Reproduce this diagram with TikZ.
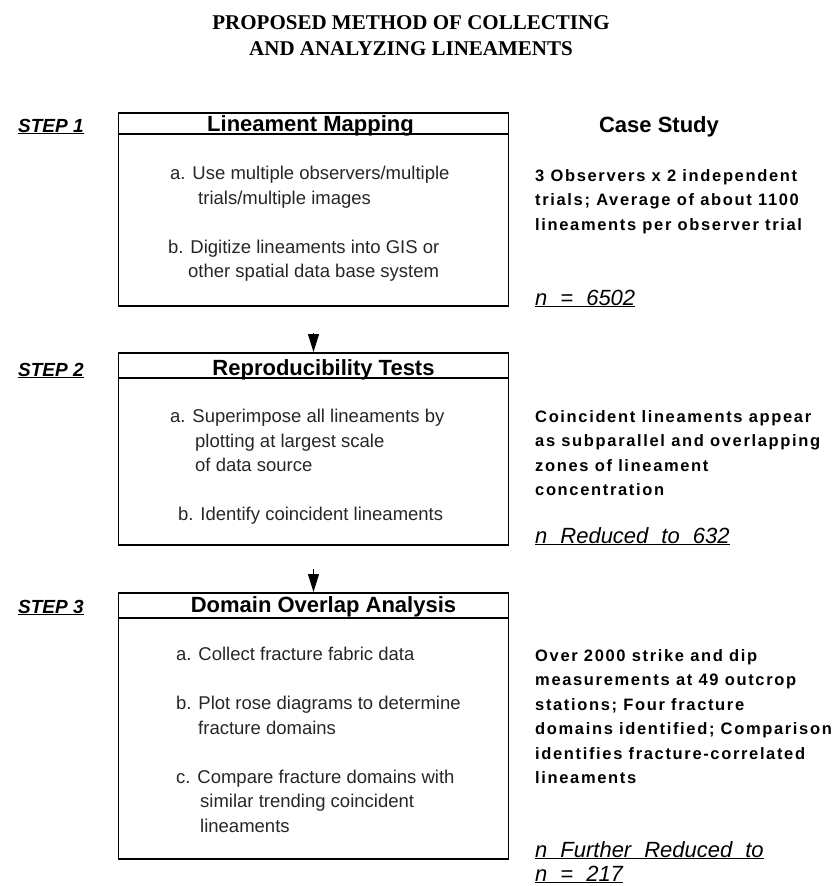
\documentclass[tikz,border=0pt]{standalone}
\usepackage{fontspec}
\setmainfont{Liberation Sans}
\newfontfamily\titlefont{Liberation Serif}
\newfontfamily\casefont[LetterSpace=10]{Liberation Sans}
\newcommand\countfont{\itshape\fontsize{22}{22}\selectfont\spaceskip 13pt\relax}
\usetikzlibrary{arrows.meta,calc}

\begin{document}
\begin{tikzpicture}[x=1pt,y=-1pt,
    stepbox/.style={draw, line width=1.5pt, minimum width=390pt, inner sep=0pt, anchor=north},
    headtext/.style={font=\bfseries\fontsize{22}{24}\selectfont, anchor=base, inner sep=0pt},
    bodytext/.style={font=\fontsize{18.5}{24.5}\selectfont, text=black!85, align=left, anchor=north west, inner sep=0pt},
    casetext/.style={font=\casefont\bfseries\fontsize{16.5}{24.5}\selectfont, align=left, anchor=north west, inner sep=0pt},
    counttext/.style={anchor=base west, inner sep=0pt},
    steplabel/.style={font=\bfseries\itshape\fontsize{19}{20}\selectfont, anchor=base west, inner sep=0pt},
    divider/.style={line width=2.5pt},
    flow/.style={-{Triangle[width=11pt,length=18pt]}, line width=1pt}
  ]

            \useasboundingbox (0,0) rectangle (836,886);

            \node (title) [font=\titlefont\bfseries\fontsize{21}{26}\selectfont, align=center] at (411,36)
                {PROPOSED METHOD OF COLLECTING\\AND ANALYZING LINEAMENTS};

            % step boxes
            \node (map) [stepbox, minimum height=193pt] at (313.5,112) {};
            \node (repro) [stepbox, minimum height=192pt] at (313.5,352) {};
            \node (domain) [stepbox, minimum height=266pt] at (313.5,592) {};

            \draw[divider] ($(map.north west)+(0,22)$) -- ($(map.north east)+(0,22)$);
            \draw[divider] ($(repro.north west)+(0,26)$) -- ($(repro.north east)+(0,26)$);
            \draw[divider] ($(domain.north west)+(0,26)$) -- ($(domain.north east)+(0,26)$);

            \node (maphead) [headtext] at ($(map.north)+(-3,19)$) {Lineament Mapping};
            \node (reprohead) [headtext] at ($(repro.north)+(10,23)$) {Reproducibility Tests};
            \node (domainhead) [headtext] at ($(domain.north)+(10,20)$) {Domain Overlap Analysis};

            \node (mapbody) [bodytext] at (170,166)
                {a. Use multiple observers/multiple\\
                 \hspace*{28pt}trials/multiple images\\[24.5pt]
                 \hspace*{-2pt}b. Digitize lineaments into GIS or\\
                 \hspace*{18pt}other spatial data base system};
            \node (reprobody) [bodytext] at (170,409)
                {a. Superimpose all lineaments by\\
                 \hspace*{25pt}plotting at largest scale\\
                 \hspace*{25pt}of data source\\[24.5pt]
                 \hspace*{8pt}b. Identify coincident lineaments};
            \node (domainbody) [bodytext] at (176,647)
                {a. Collect fracture fabric data\\[24.5pt]
                 b. Plot rose diagrams to determine\\
                 \hspace*{22pt}fracture domains\\[24.5pt]
                 c. Compare fracture domains with\\
                 \hspace*{24pt}similar trending coincident\\
                 \hspace*{24pt}lineaments};

            % arrows between steps
            \coordinate (mapout) at ($(repro.north)+(0,-19)$);
            \coordinate (reproout) at ($(domain.north)+(0,-23)$);
            \draw[flow] (mapout) -- (repro.north);
            \draw[flow] (reproout) -- (domain.north);

            % step labels
            \node (step1) [steplabel] at (18,132) {\underline{STEP 1}};
            \node (step2) [steplabel] at (18,376) {\underline{STEP 2}};
            \node (step3) [steplabel] at (18,613) {\underline{STEP 3}};

            % case study column
            \node (case) [headtext] at (659,132) {Case Study};
            \node (mapcase) [casetext] at (535,169)
                {3 Observers x 2 independent\\trials; Average of about 1100\\lineaments per observer trial};
            \node (reprocase) [casetext] at (535,410)
                {Coincident lineaments appear\\as subparallel and overlapping\\zones of lineament\\concentration};
            \node (domaincase) [casetext] at (535,649)
                {Over 2000 strike and dip\\measurements at 49 outcrop\\stations; Four fracture\\domains identified; Comparison\\identifies fracture-correlated\\lineaments};

            \node (mapn) [counttext] at (535,305) {\countfont\underline{n = 6502}};
            \node (repron) [counttext] at (535,543) {\countfont\underline{n Reduced to 632}};
            \node (domainn) [counttext] at (535,857) {\countfont\underline{n Further Reduced to}};
            \node (domainn2) [counttext] at (535,881) {\countfont\underline{n = 217}};

        \end{tikzpicture}
\end{document}
